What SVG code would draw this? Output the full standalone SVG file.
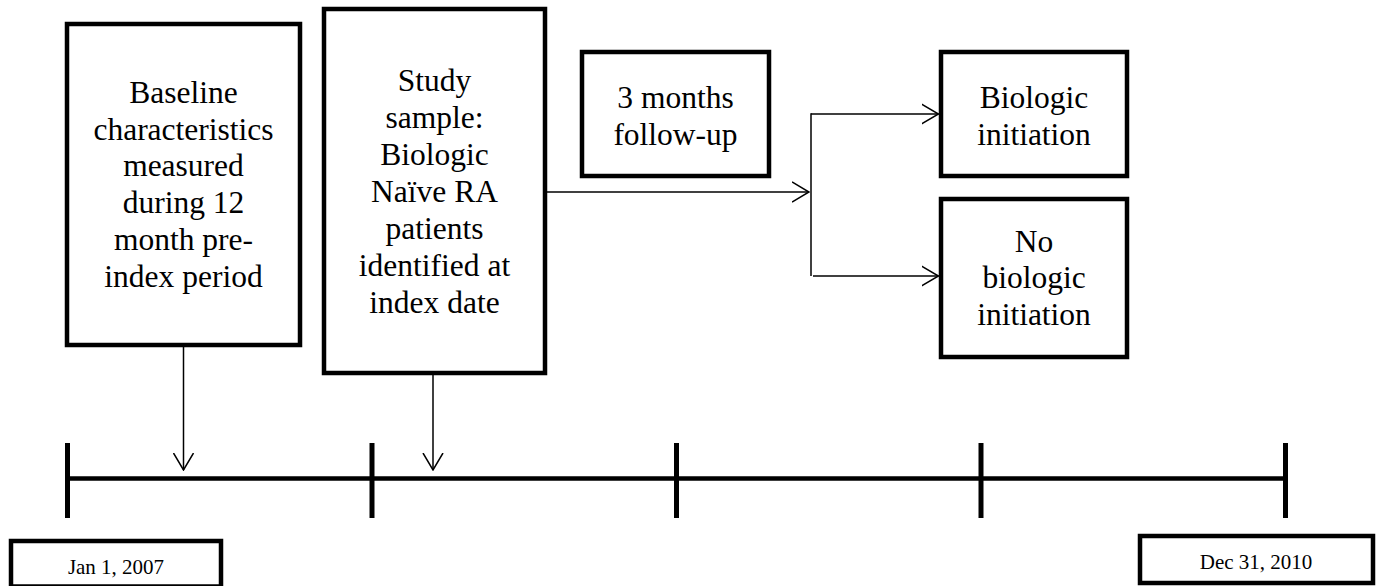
<svg xmlns="http://www.w3.org/2000/svg" width="1378" height="586" viewBox="0 0 1378 586">
<style>
.box{fill:#fff;stroke:#000;stroke-width:4.5}
.t{font-family:"Liberation Serif","Times New Roman",serif;font-size:31.5px;fill:#000;text-anchor:middle}
.d{font-family:"Liberation Serif","Times New Roman",serif;font-size:21px;fill:#000;text-anchor:middle}
.c{fill:none;stroke:#000;stroke-width:1.5}
.tl{fill:none;stroke:#000;stroke-width:4.5}
.tk{fill:none;stroke:#000;stroke-width:5}
</style>
<defs>
<marker id="arr" viewBox="0 0 18 22" refX="17" refY="11" markerWidth="18" markerHeight="22" markerUnits="userSpaceOnUse" orient="auto">
<path d="M0,1 L17,11 L0,21" fill="none" stroke="#000" stroke-width="1.5"/>
</marker>
</defs>
<rect width="1378" height="586" fill="#fff"/>
<g id="baseline">
<rect class="box" x="67" y="24" width="233" height="321"/>
<text class="t" x="183.5" y="103">Baseline</text>
<text class="t" x="183.5" y="140">characteristics</text>
<text class="t" x="183.5" y="176">measured</text>
<text class="t" x="183.5" y="213">during 12</text>
<text class="t" x="183.5" y="250">month pre-</text>
<text class="t" x="183.5" y="287">index period</text>
</g>
<g id="study">
<rect class="box" x="324" y="9" width="221" height="364"/>
<text class="t" x="434.5" y="91">Study</text>
<text class="t" x="434.5" y="128">sample:</text>
<text class="t" x="434.5" y="165">Biologic</text>
<text class="t" x="434.5" y="202">Naïve RA</text>
<text class="t" x="434.5" y="239">patients</text>
<text class="t" x="434.5" y="276">identified at</text>
<text class="t" x="434.5" y="313">index date</text>
</g>
<g id="followup">
<rect class="box" x="582" y="52" width="187" height="124"/>
<text class="t" x="675.5" y="108">3 months</text>
<text class="t" x="675.5" y="145">follow-up</text>
</g>
<g id="initiation">
<rect class="box" x="941" y="52" width="186" height="124"/>
<text class="t" x="1034" y="108">Biologic</text>
<text class="t" x="1034" y="145">initiation</text>
</g>
<g id="noinitiation">
<rect class="box" x="941" y="199" width="186" height="158"/>
<text class="t" x="1034" y="252">No</text>
<text class="t" x="1034" y="288">biologic</text>
<text class="t" x="1034" y="325">initiation</text>
</g>
<g id="timeline">
<line class="tl" x1="67.5" y1="478.5" x2="1285.5" y2="478.5"/>
<line class="tk" x1="67.5" y1="443" x2="67.5" y2="518"/>
<line class="tk" x1="372" y1="443" x2="372" y2="518"/>
<line class="tk" x1="676.5" y1="443" x2="676.5" y2="518"/>
<line class="tk" x1="981" y1="443" x2="981" y2="518"/>
<line class="tk" x1="1285.5" y1="443" x2="1285.5" y2="518"/>
</g>
<g id="start">
<rect class="box" x="11" y="541" width="210" height="45.5"/>
<text class="d" x="116" y="574">Jan 1, 2007</text>
</g>
<g id="end">
<rect class="box" x="1140" y="536" width="233" height="47"/>
<text class="d" x="1256" y="569">Dec 31, 2010</text>
</g>
<g id="connectors">
<line class="c" x1="183.5" y1="347" x2="183.5" y2="470" marker-end="url(#arr)"/>
<line class="c" x1="433" y1="375" x2="433" y2="470" marker-end="url(#arr)"/>
<line class="c" x1="547" y1="192" x2="809" y2="192" marker-end="url(#arr)"/>
<line class="c" x1="811" y1="113.25" x2="811" y2="276"/>
<line class="c" x1="811" y1="114" x2="938.5" y2="114" marker-end="url(#arr)"/>
<line class="c" x1="813" y1="276" x2="938.5" y2="276" marker-end="url(#arr)"/>
</g>
</svg>
